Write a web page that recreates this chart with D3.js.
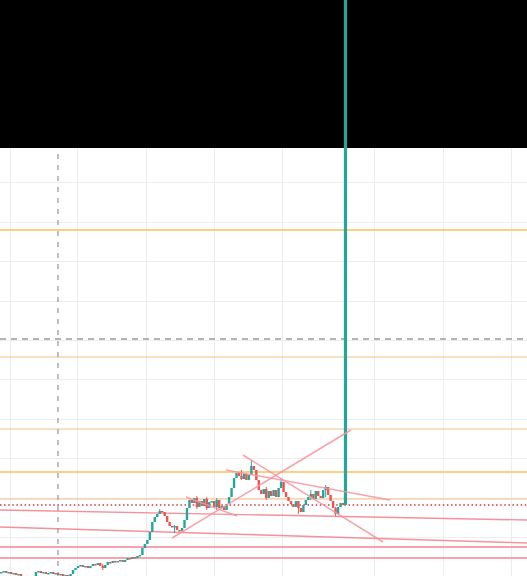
<!DOCTYPE html>
<html><head><meta charset="utf-8">
<script src="https://cdn.jsdelivr.net/npm/d3@7"></script>
<style>html,body{margin:0;padding:0;background:#fff;overflow:hidden}</style>
</head><body><svg id="c" width="527" height="576"></svg>
<script>
// ---- data (price units) ----
const closes = [
 428,429,427,428,426,427,425,426,424,
 422,421,420,421,422,
 428,429,427,428,426,
 427,428,426,427,
 425,426,424,425,423,426,
 430,432,
 434,435,433,434,
 432,434,
 436,435,
 437,434,432,435,
 438,437,439,438,
 439,440,438,440,
 442,441,443,442,
 444,445,
 452,456,460,468,
 478,483,486,489,
 488,484,478,474,
 473,474,470,469,
 472,480,492,500,
 497,502,493,499,
 494,501,492,498,
 499,493,500,492,
 494,490,496,503,
 512,522,527,524,
 521,526,520,525,
 534,530,520,510,
 506,511,502,509,
 504,510,503,512,
 518,508,503,499,
 496,493,499,492,
 488,495,500,503,
 506,501,509,504,
 502,510,513,505,
 499,492,486,493,
 497,495,
 1100
];
const firstOpen = 427;
// extra wick extremes: [index, high, low]
const wicks = [[64,491,486],[101,540,530],[113,522,512],[120,497,486],[135,493,484],[70,475,467],
  [41,436,430],[79,504,491],[83,503,490],[87,502,490],[97,530,520],[107,513,500],[125,510,500],[131,515,503]];
const gridTimes = [3.5, 30.7, 58.5, 86, 113.5, 150.7, 178.3, 206];
const gridPrices = [463, 502.4, 541.8, 581.2, 620.6, 660, 699.4, 738.8, 778.2, 817.6];
const brightLevels = [770, 528];
const paleLevels = [643, 571, 501];
const redLevels = [453, 442];
const dottedLevel = 495;
const crossPrice = 661;
const crossTime = 22.9;
const longLines = [[[-0.5,490],[212.3,480]], [[-0.5,473],[212.3,457]]];
const trendLines = [
 [[68.95,462],[141.2,570]],
 [[97.6,545],[154.2,458]],
 [[90.8,530],[157.0,500]],
 [[74.6,503],[95.2,484]]
];

// ---- drawing ----
const W = 527, H = 576, TOP = 148;
const svg = d3.select('#c');
const x = d3.scaleLinear().domain([-0.5, 212.3]).range([0, W]);
const y = d3.scaleLinear().domain([424, 852]).range([H, TOP]);

svg.append('rect').attr('width', W).attr('height', H).attr('fill', '#fff');

const grid = svg.append('g');
grid.selectAll('line.v').data(gridTimes).join('line')
  .attr('x1', d => Math.round(x(d)) + 0.5).attr('x2', d => Math.round(x(d)) + 0.5)
  .attr('y1', 0).attr('y2', H).attr('stroke', '#ededf0').attr('stroke-width', 1);
grid.selectAll('line.h').data(gridPrices).join('line')
  .attr('y1', d => Math.round(y(d)) + 0.5).attr('y2', d => Math.round(y(d)) + 0.5)
  .attr('x1', 0).attr('x2', W).attr('stroke', '#ededf0').attr('stroke-width', 1);

const lv = svg.append('g');
function hline(p, color, w, dash) {
  const l = lv.append('line').attr('x1', 0).attr('x2', W)
    .attr('y1', y(p)).attr('y2', y(p)).attr('stroke', color).attr('stroke-width', w);
  if (dash) l.attr('stroke-dasharray', dash);
}
brightLevels.forEach(p => hline(p, '#f9bf5e', 1.3));
paleLevels.forEach(p => hline(p, '#f4c187', 1.2));
redLevels.forEach(p => hline(p, '#f5848f', 1.5));
hline(dottedLevel, '#c8364e', 1.5, '1.5,2.6');

const line = d3.line().x(d => x(d[0])).y(d => y(d[1]));
lv.selectAll('path.long').data(longLines).join('path')
  .attr('d', line).attr('fill', 'none').attr('stroke', '#f5848f').attr('stroke-width', 1.4).attr('opacity', 0.9);

// crosshair
hline(crossPrice, '#9b9ba2', 1.3, '6,5');
lv.append('line').attr('x1', x(crossTime)).attr('x2', x(crossTime)).attr('y1', 0).attr('y2', H)
  .attr('stroke', '#9b9ba2').attr('stroke-width', 1.3).attr('stroke-dasharray', '5,6');

// black band on top
svg.append('rect').attr('x', 0).attr('y', 0).attr('width', W).attr('height', TOP).attr('fill', '#000');

// candles
const candles = closes.map((c, i) => {
  const o = i === 0 ? firstOpen : closes[i - 1];
  let hi = Math.max(o, c), lo = Math.min(o, c);
  wicks.forEach(w => { if (w[0] === i) { hi = Math.max(hi, w[1]); lo = Math.min(lo, w[2]); } });
  return { i, o, c, hi, lo };
});
const bw = 2.4;
const last = closes.length - 1;
const cg = svg.append('g');
cg.selectAll('line').data(candles).join('line')
  .attr('x1', d => x(d.i)).attr('x2', d => x(d.i))
  .attr('y1', d => y(d.hi)).attr('y2', d => y(d.lo))
  .attr('stroke', d => d.c >= d.o ? '#26a69a' : '#ef5350').attr('stroke-width', 1);
cg.selectAll('rect').data(candles).join('rect')
  .attr('x', d => x(d.i) - (d.i === last ? 1.6 : bw / 2))
  .attr('width', d => d.i === last ? 3.2 : bw)
  .attr('y', d => y(Math.max(d.o, d.c)))
  .attr('height', d => Math.max(1.5, Math.abs(y(d.o) - y(d.c))))
  .attr('fill', d => d.c >= d.o ? '#26a69a' : '#ef5350');

// trend lines
svg.append('g').selectAll('path').data(trendLines).join('path')
  .attr('d', line).attr('fill', 'none').attr('stroke', '#f7929c').attr('stroke-width', 1.5).attr('opacity', 0.85);
</script>
</body></html>
